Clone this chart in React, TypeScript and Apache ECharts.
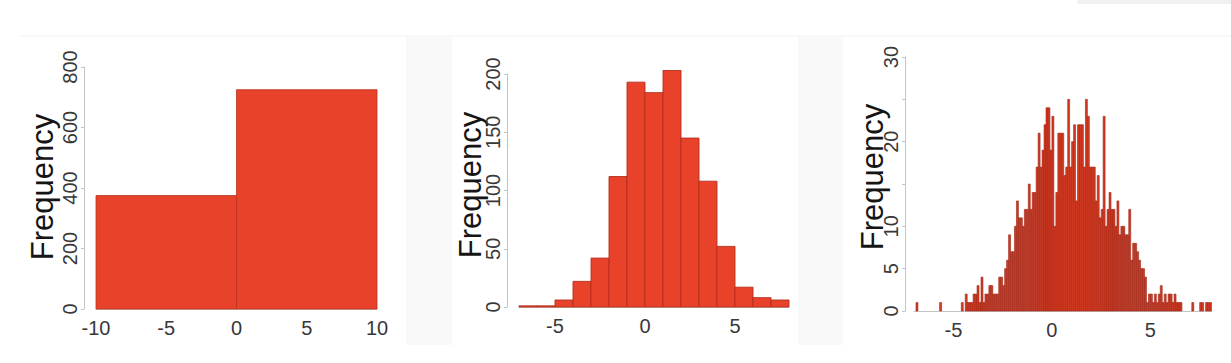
import React, { useEffect, useRef } from "react";
import * as echarts from "echarts";

// Panel 1: two wide bins
const P1_EDGES = [-10, 0, 10];
const P1_COUNTS = [375, 725];

// Panel 2: unit-width bins
const P2_EDGES = [-7, -6, -5, -4, -3, -2, -1, 0, 1, 2, 3, 4, 5, 6, 7, 8];
const P2_COUNTS = [1, 1, 6, 22, 42, 112, 193, 184, 203, 145, 108, 52, 17, 8, 6];

// Panel 3: fine bins of width 0.1 starting at -7
const P3_START = -7;
const P3_WIDTH = 0.1;
const P3_COUNTS = [
  0, 1, 0, 0, 0, 0, 0, 0, 0, 0,
  0, 0, 0, 1, 0, 0, 0, 0, 0, 0,
  0, 0, 0, 0, 1, 0, 2, 1, 1, 1,
  2, 2, 3, 1, 4, 1, 2, 2, 3, 3,
  2, 2, 2, 4, 4, 3, 5, 6, 9, 7,
  7, 10, 13, 11, 11, 10, 12, 12, 15, 12,
  14, 14, 17, 21, 17, 19, 22, 24, 24, 19,
  23, 10, 14, 21, 21, 21, 16, 17, 25, 17,
  20, 22, 13, 22, 22, 22, 17, 25, 23, 17,
  17, 17, 13, 16, 11, 12, 23, 10, 12, 14,
  12, 12, 10, 13, 9, 10, 10, 9, 9, 12,
  6, 8, 8, 7, 6, 5, 5, 4, 1, 2,
  2, 1, 2, 1, 2, 3, 1, 2, 1, 2,
  2, 1, 2, 1, 1, 1, 0, 0, 0, 0,
  0, 1, 0, 0, 0, 1, 1, 0, 1, 1,
  1,
];

const P1_Y_TICKS = ["0", "200", "400", "600", "800"];
const P2_Y_TICKS = ["0", "50", "100", "150", "200"];
const P3_Y_TICKS = ["0", "5", "10", "20", "30"];
const X_TICKS_23 = [-5, 0, 5];

const FONT = "'Liberation Sans', Arial, Helvetica, sans-serif";

function histData(edges: number[], counts: number[]) {
  const out: number[][] = [];
  for (let i = 0; i < counts.length; i++) {
    if (counts[i] > 0) out.push([edges[i], edges[i + 1], counts[i]]);
  }
  return out;
}

function p3Data() {
  const edges: number[] = [];
  for (let i = 0; i <= P3_COUNTS.length; i++) edges.push(+(P3_START + i * P3_WIDTH).toFixed(2));
  return histData(edges, P3_COUNTS);
}

function makeRender(fill: string, stroke: string, lw: number) {
  return (params: any, api: any) => {
    const p0 = api.coord([api.value(0), 0]);
    const p1 = api.coord([api.value(1), api.value(2)]);
    return {
      type: "rect",
      shape: { x: p0[0], y: p1[1], width: p1[0] - p0[0], height: p0[1] - p1[1] },
      style: { fill, stroke, lineWidth: lw },
    };
  };
}

function yAxis(grid: number, max: number, interval: number, ticks: string[], offset: number) {
  return {
    type: "value",
    gridIndex: grid,
    min: 0,
    max,
    interval,
    offset,
    splitLine: { show: false },
    axisLine: { show: true, onZero: false, lineStyle: { color: "#c4c4c4", width: 1 } },
    axisTick: { show: true, length: 3, lineStyle: { color: "#c4c4c4" } },
    axisLabel: {
      rotate: 90,
      margin: 4,
      fontFamily: FONT,
      fontSize: 20,
      color: "#383838",
      formatter: (v: number) => (ticks.indexOf(String(v)) >= 0 ? String(v) : ""),
    },
  };
}

function xAxis(grid: number, min: number, max: number, custom: number[] | null) {
  const label: any = {
    fontFamily: FONT,
    fontSize: 20,
    color: "#383838",
    margin: 9,
    showMinLabel: true,
    showMaxLabel: true,
  };
  if (custom) label.customValues = custom;
  return {
    type: "value",
    gridIndex: grid,
    min,
    max,
    interval: custom ? undefined : 5,
    splitLine: { show: false },
    axisLine: { show: true, onZero: false, lineStyle: { color: "#c4c4c4", width: 1 } },
    axisTick: { show: false },
    axisLabel: label,
  };
}

function freqLabel(x: number, y: number) {
  return {
    type: "text",
    x,
    y,
    rotation: Math.PI / 2,
    style: {
      text: "Frequency",
      font: `31px ${FONT}`,
      fill: "#151515",
      align: "center",
      verticalAlign: "middle",
    },
  };
}

export default function App() {
  const ref = useRef<HTMLDivElement>(null);
  useEffect(() => {
    if (!ref.current) return;
    const chart = echarts.init(ref.current, null, { renderer: "svg" });
    chart.setOption({
      animation: false,
      backgroundColor: "#ffffff",
      grid: [
        { left: 96, top: 67, width: 281, height: 242 },
        { left: 519, top: 74, width: 270, height: 233 },
        { left: 914, top: 57, width: 297.5, height: 254 },
      ],
      xAxis: [
        xAxis(0, -10, 10, null),
        xAxis(1, -7, 8, X_TICKS_23),
        xAxis(2, -7, 8.1, X_TICKS_23),
      ],
      yAxis: [
        yAxis(0, 800, 200, P1_Y_TICKS, 12),
        yAxis(1, 200, 50, P2_Y_TICKS, 12),
        yAxis(2, 30, 5, P3_Y_TICKS, 9),
      ],
      graphic: [
        { type: "rect", z: -10, shape: { x: 1077, y: 0, width: 154, height: 4 }, style: { fill: "#f1f1f1" } },
        { type: "line", z: -10, shape: { x1: 20, y1: 36, x2: 1231, y2: 36 }, style: { stroke: "#f2f2f2", lineWidth: 1 } },
        { type: "rect", z: -10, shape: { x: 406, y: 37, width: 46, height: 308 }, style: { fill: "#f9f9f9" } },
        { type: "rect", z: -10, shape: { x: 798, y: 37, width: 45, height: 308 }, style: { fill: "#f9f9f9" } },
        freqLabel(42, 187),
        freqLabel(470, 185),
        freqLabel(872, 177),
      ],
      series: [
        {
          type: "custom",
          xAxisIndex: 0,
          yAxisIndex: 0,
          clip: false,
          renderItem: makeRender("#e8422a", "#b8321f", 0.8),
          encode: { x: [0, 1], y: 2 },
          data: histData(P1_EDGES, P1_COUNTS),
        },
        {
          type: "custom",
          xAxisIndex: 1,
          yAxisIndex: 1,
          clip: false,
          renderItem: makeRender("#e8422a", "#b3301e", 0.9),
          encode: { x: [0, 1], y: 2 },
          data: histData(P2_EDGES, P2_COUNTS),
        },
        {
          type: "custom",
          xAxisIndex: 2,
          yAxisIndex: 2,
          clip: false,
          renderItem: makeRender("#d23a22", "#9e2618", 0.6),
          encode: { x: [0, 1], y: 2 },
          data: p3Data(),
        },
      ],
    });
    return () => chart.dispose();
  }, []);
  return (
    <div
      ref={ref}
      style={{ position: "fixed", left: 0, top: 0, width: 1231, height: 363 }}
    />
  );
}
